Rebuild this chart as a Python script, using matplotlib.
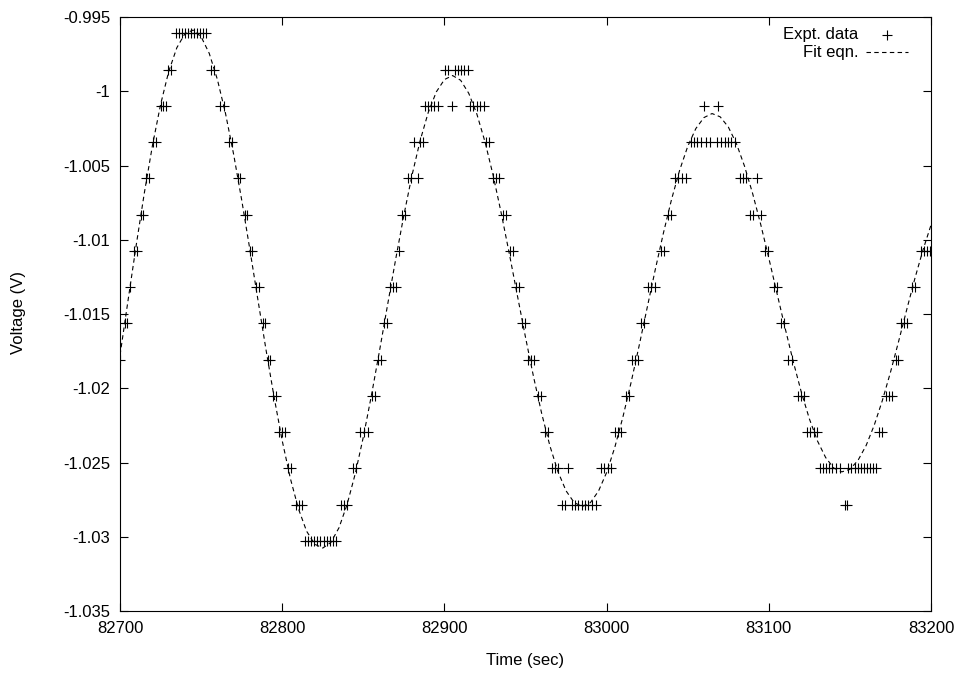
import matplotlib.pyplot as plt
from matplotlib.ticker import FormatStrFormatter, FixedLocator

plt.rcParams["font.family"] = ["Liberation Sans", "DejaVu Sans"]

# measured samples (12-bit ADC levels)
expt_time = [
    82700.0, 82703.1, 82704.3, 82706.2, 82708.6, 82710.5, 82712.9, 82714.2,
    82716.0, 82717.9, 82720.3, 82722.2, 82725.3, 82726.5, 82728.4, 82729.6,
    82731.4, 82734.5, 82736.4, 82738.2, 82740.1, 82741.9, 82743.8, 82745.6,
    82747.5, 82749.3, 82751.2, 82753.0, 82756.1, 82758.0, 82761.7, 82764.1,
    82767.2, 82769.0, 82772.7, 82774.0, 82777.1, 82778.3, 82780.1, 82781.4,
    82783.8, 82785.7, 82788.2, 82789.4, 82791.2, 82792.5, 82794.3, 82796.2,
    82798.0, 82799.9, 82801.7, 82803.6, 82805.4, 82808.5, 82810.4, 82812.2,
    82814.1, 82815.9, 82817.8, 82819.6, 82821.5, 82823.3, 82825.8, 82827.6,
    82829.5, 82831.3, 82833.2, 82836.2, 82838.1, 82839.9, 82843.6, 82845.5,
    82848.0, 82850.4, 82852.9, 82855.4, 82857.2, 82859.1, 82860.9, 82862.8,
    82864.6, 82866.5, 82868.3, 82870.2, 82872.0, 82873.9, 82875.7, 82877.6,
    82879.4, 82881.3, 82883.7, 82885.0, 82886.8, 82888.0, 82889.9, 82891.7,
    82893.6, 82896.0, 82900.4, 82902.2, 82904.7, 82906.5, 82908.5, 82910.3,
    82912.2, 82914.5, 82915.8, 82917.6, 82920.1, 82921.9, 82924.4, 82925.6,
    82927.5, 82930.0, 82931.8, 82933.7, 82936.1, 82938.0, 82940.4, 82942.3,
    82944.1, 82946.0, 82947.8, 82949.7, 82951.5, 82953.4, 82955.2, 82957.7,
    82959.5, 82962.0, 82963.9, 82966.3, 82968.2, 82970.0, 82972.5, 82974.3,
    82976.2, 82978.7, 82980.5, 82982.4, 82984.8, 82986.7, 82988.5, 82991.0,
    82993.4, 82996.5, 82998.4, 83000.9, 83002.7, 83005.2, 83007.0, 83008.9,
    83011.9, 83013.8, 83015.6, 83017.5, 83019.3, 83021.2, 83023.0, 83025.5,
    83027.4, 83029.8, 83033.5, 83035.4, 83037.8, 83039.7, 83042.2, 83044.0,
    83046.5, 83049.0, 83052.0, 83053.9, 83055.7, 83058.2, 83060.0, 83061.3,
    83063.7, 83068.1, 83068.7, 83070.5, 83073.0, 83074.8, 83076.7, 83079.1,
    83082.2, 83084.1, 83085.9, 83088.4, 83090.2, 83092.7, 83095.2, 83097.6,
    83099.5, 83103.2, 83105.0, 83107.5, 83109.4, 83111.8, 83114.3, 83118.0,
    83119.8, 83121.7, 83123.5, 83125.4, 83127.9, 83129.7, 83131.6, 83133.4,
    83135.3, 83137.1, 83139.0, 83141.5, 83143.9, 83147.0, 83148.2, 83148.8,
    83150.7, 83153.1, 83155.0, 83156.8, 83158.7, 83160.5, 83162.4, 83164.2,
    83166.1, 83167.9, 83169.8, 83172.3, 83174.1, 83176.0, 83178.4, 83179.7,
    83181.5, 83183.3, 83185.2, 83188.3, 83190.1, 83193.8, 83195.7, 83197.5,
    83199.5,
]
expt_volt = [
    -1.01807, -1.01562, -1.01562, -1.01318, -1.01074, -1.01074, -1.00830, -1.00830,
    -1.00586, -1.00586, -1.00342, -1.00342, -1.00098, -1.00098, -1.00098, -0.99854,
    -0.99854, -0.99609, -0.99609, -0.99609, -0.99609, -0.99609, -0.99609, -0.99609,
    -0.99609, -0.99609, -0.99609, -0.99609, -0.99854, -0.99854, -1.00098, -1.00098,
    -1.00342, -1.00342, -1.00586, -1.00586, -1.00830, -1.00830, -1.01074, -1.01074,
    -1.01318, -1.01318, -1.01562, -1.01562, -1.01807, -1.01807, -1.02051, -1.02051,
    -1.02295, -1.02295, -1.02295, -1.02539, -1.02539, -1.02783, -1.02783, -1.02783,
    -1.03027, -1.03027, -1.03027, -1.03027, -1.03027, -1.03027, -1.03027, -1.03027,
    -1.03027, -1.03027, -1.03027, -1.02783, -1.02783, -1.02783, -1.02539, -1.02539,
    -1.02295, -1.02295, -1.02295, -1.02051, -1.02051, -1.01807, -1.01807, -1.01562,
    -1.01562, -1.01318, -1.01318, -1.01318, -1.01074, -1.00830, -1.00830, -1.00586,
    -1.00586, -1.00342, -1.00586, -1.00342, -1.00342, -1.00098, -1.00098, -1.00098,
    -1.00098, -1.00098, -0.99854, -0.99854, -1.00098, -0.99854, -0.99854, -0.99854,
    -0.99854, -0.99854, -1.00098, -1.00098, -1.00098, -1.00098, -1.00098, -1.00342,
    -1.00342, -1.00586, -1.00586, -1.00586, -1.00830, -1.00830, -1.01074, -1.01074,
    -1.01318, -1.01318, -1.01562, -1.01562, -1.01807, -1.01807, -1.01807, -1.02051,
    -1.02051, -1.02295, -1.02295, -1.02539, -1.02539, -1.02539, -1.02783, -1.02783,
    -1.02539, -1.02783, -1.02783, -1.02783, -1.02783, -1.02783, -1.02783, -1.02783,
    -1.02783, -1.02539, -1.02539, -1.02539, -1.02539, -1.02295, -1.02295, -1.02295,
    -1.02051, -1.02051, -1.01807, -1.01807, -1.01807, -1.01562, -1.01562, -1.01318,
    -1.01318, -1.01318, -1.01074, -1.01074, -1.00830, -1.00830, -1.00586, -1.00586,
    -1.00586, -1.00586, -1.00342, -1.00342, -1.00342, -1.00342, -1.00098, -1.00342,
    -1.00342, -1.00342, -1.00098, -1.00342, -1.00342, -1.00342, -1.00342, -1.00342,
    -1.00586, -1.00586, -1.00586, -1.00830, -1.00830, -1.00586, -1.00830, -1.01074,
    -1.01074, -1.01318, -1.01318, -1.01562, -1.01562, -1.01807, -1.01807, -1.02051,
    -1.02051, -1.02051, -1.02295, -1.02295, -1.02295, -1.02295, -1.02539, -1.02539,
    -1.02539, -1.02539, -1.02539, -1.02539, -1.02539, -1.02783, -1.02783, -1.02539,
    -1.02539, -1.02539, -1.02539, -1.02539, -1.02539, -1.02539, -1.02539, -1.02539,
    -1.02539, -1.02295, -1.02295, -1.02051, -1.02051, -1.02051, -1.01807, -1.01807,
    -1.01562, -1.01562, -1.01562, -1.01318, -1.01318, -1.01074, -1.01074, -1.01074,
    -1.01074,
]

# fitted curve, read every 5 s
fit_time = list(range(82700, 83201, 5))
fit_volt = [
    -1.01776, -1.01403, -1.01034, -1.00683, -1.00364, -1.00089, -0.99867, -0.99707,
    -0.99612, -0.99588, -0.99633, -0.99745, -0.99920, -1.00148, -1.00423, -1.00732,
    -1.01063, -1.01404, -1.01741, -1.02061, -1.02354, -1.02607, -1.02812, -1.02962,
    -1.03050, -1.03076, -1.03038, -1.02939, -1.02782, -1.02576, -1.02328, -1.02047,
    -1.01746, -1.01435, -1.01127, -1.00834, -1.00566, -1.00333, -1.00143, -1.00004,
    -0.99921, -0.99894, -0.99926, -1.00014, -1.00154, -1.00340, -1.00565, -1.00820,
    -1.01094, -1.01377, -1.01658, -1.01926, -1.02172, -1.02387, -1.02562, -1.02691,
    -1.02770, -1.02796, -1.02770, -1.02692, -1.02567, -1.02399, -1.02195, -1.01964,
    -1.01715, -1.01457, -1.01200, -1.00955, -1.00729, -1.00532, -1.00371, -1.00251,
    -1.00177, -1.00150, -1.00172, -1.00240, -1.00352, -1.00504, -1.00688, -1.00897,
    -1.01124, -1.01359, -1.01593, -1.01818, -1.02025, -1.02206, -1.02355, -1.02466,
    -1.02537, -1.02563, -1.02546, -1.02485, -1.02385, -1.02248, -1.02082, -1.01892,
    -1.01685, -1.01471, -1.01262, -1.01070, -1.00900,
]

x_ticks = [82700, 82800, 82900, 83000, 83100, 83200]
y_ticks = [-1.035, -1.03, -1.025, -1.02, -1.015, -1.01, -1.005, -1.0, -0.995]

fig = plt.figure(figsize=(9.65, 6.73), dpi=100, facecolor="white")
ax = fig.add_axes([0.1244, 0.0921, 0.8404, 0.8826])

ax.plot(expt_time, expt_volt, ls="none", marker="+", ms=6.5, mew=0.8,
        color="black", zorder=3)
ax.plot(fit_time, fit_volt, color="black", lw=0.8, dashes=(4, 3), zorder=2)

ax.set_xlim(82700, 83200)
ax.set_ylim(-1.035, -0.995)
ax.xaxis.set_major_locator(FixedLocator(x_ticks))
ax.yaxis.set_major_locator(FixedLocator(y_ticks))
ax.yaxis.set_major_formatter(FormatStrFormatter("%g"))
ax.xaxis.set_major_formatter(FormatStrFormatter("%g"))
ax.tick_params(direction="in", top=True, right=True, length=6, width=0.8,
               labelsize=12, pad=7)
for spine in ax.spines.values():
    spine.set_linewidth(0.8)

ax.set_xlabel("Time (sec)", fontsize=12)
ax.set_ylabel("Voltage (V)", fontsize=12)
ax.xaxis.set_label_coords(0.4994, -0.071)
ax.yaxis.set_label_coords(-0.116, 0.502)

# gnuplot-style key: right-justified text, sample on the right
ax.text(0.910, 0.970, "Expt. data", transform=ax.transAxes, ha="right",
        va="center", fontsize=12)
ax.plot([0.946], [0.970], transform=ax.transAxes, marker="+", ms=6.5,
        mew=0.8, color="black", ls="none")
ax.text(0.910, 0.941, "Fit eqn.", transform=ax.transAxes, ha="right",
        va="center", fontsize=12)
ax.plot([0.920, 0.972], [0.941, 0.941], transform=ax.transAxes,
        color="black", lw=0.8, dashes=(4, 3))

fig.savefig("out.png", dpi=100)
